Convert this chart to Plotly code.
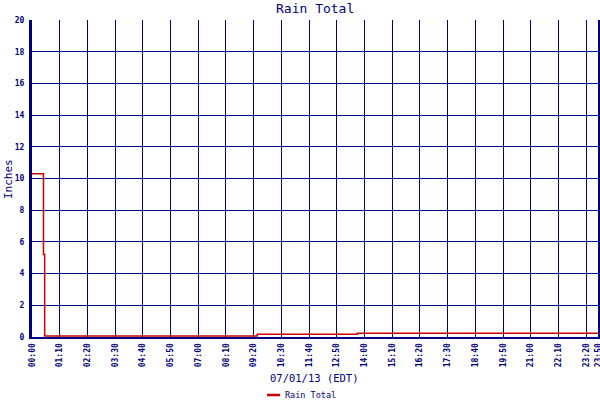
import plotly.graph_objects as go

# Data
times = ["00:00", "00:29", "00:32", "09:29", "13:42", "23:50"]
rain_total = [10.3, 5.2, 0.06, 0.17, 0.23, 0.23]
x_tick_labels = ["00:00", "01:10", "02:20", "03:30", "04:40", "05:50", "07:00",
                 "08:10", "09:20", "10:30", "11:40", "12:50", "14:00", "15:10",
                 "16:20", "17:30", "18:40", "19:50", "21:00", "22:10", "23:20", "23:50"]
y_ticks = [0, 2, 4, 6, 8, 10, 12, 14, 16, 18, 20]


def to_min(t):
    h, m = t.split(":")
    return int(h) * 60 + int(m)


xs = [to_min(t) for t in times]
xt = [to_min(t) for t in x_tick_labels]

NAVY = "#000080"
RED = "#CC0000"
FONT = "DejaVu Sans Mono"

L, R, T, B = 32, 2, 20, 63
PW, PH = 600 - L - R, 400 - T - B


def px_x(x):
    return (x - L) / PW


def px_y(y):
    return (400 - B - y) / PH


fig = go.Figure()
fig.add_trace(go.Scatter(x=xs, y=rain_total, mode="lines", line_shape="hv",
                         line=dict(color=RED, width=1.5), name="Rain Total",
                         showlegend=False))

fig.update_layout(
    width=600, height=400,
    margin=dict(l=L, r=R, t=T, b=B, autoexpand=False),
    paper_bgcolor="white", plot_bgcolor="white",
    font=dict(family=FONT, color=NAVY),
    xaxis=dict(range=[0, 1430], tickvals=xt, ticktext=x_tick_labels,
               tickangle=-90, tickfont=dict(family=FONT, size=8, color=NAVY, weight="bold"),
               showgrid=True, gridcolor=NAVY, gridwidth=1,
               showline=True, linecolor=NAVY, linewidth=2, mirror=False,
               zeroline=False, ticks="", ticklabelstandoff=1, automargin=False,
               ticklabeloverflow="allow"),
    yaxis=dict(range=[0, 20], tickvals=y_ticks,
               tickfont=dict(family=FONT, size=8, color=NAVY, weight="bold"),
               showgrid=True, gridcolor=NAVY, gridwidth=1,
               showline=True, linecolor=NAVY, linewidth=3, mirror=True,
               zeroline=False, ticks="", ticklabelstandoff=3, automargin=False),
)

# Title and axis titles
fig.add_annotation(text="Rain Total", xref="paper", yref="paper",
                   x=px_x(315), y=px_y(9), xanchor="center", yanchor="middle",
                   showarrow=False, font=dict(family=FONT, size=13, color=NAVY))
fig.add_annotation(text="07/01/13 (EDT)", xref="paper", yref="paper",
                   x=px_x(314), y=px_y(378), xanchor="center", yanchor="middle",
                   showarrow=False, font=dict(family=FONT, size=10.5, color=NAVY))
fig.add_annotation(text="Inches", xref="paper", yref="paper",
                   x=px_x(8), y=px_y(179), xanchor="center", yanchor="middle",
                   textangle=-90, showarrow=False,
                   font=dict(family=FONT, size=11, color=NAVY))

# Manual legend (short line sample + label)
fig.add_shape(type="line", xref="paper", yref="paper",
              x0=px_x(267), x1=px_x(280), y0=px_y(395), y1=px_y(395),
              line=dict(color=RED, width=2.5))
fig.add_annotation(text="Rain Total", xref="paper", yref="paper",
                   x=px_x(283), y=px_y(395), xanchor="left", yanchor="middle",
                   showarrow=False, font=dict(family=FONT, size=8.5, color=NAVY))

fig.write_html("out.html", config={"displayModeBar": False},
               post_script="document.body.style.margin='0';")
